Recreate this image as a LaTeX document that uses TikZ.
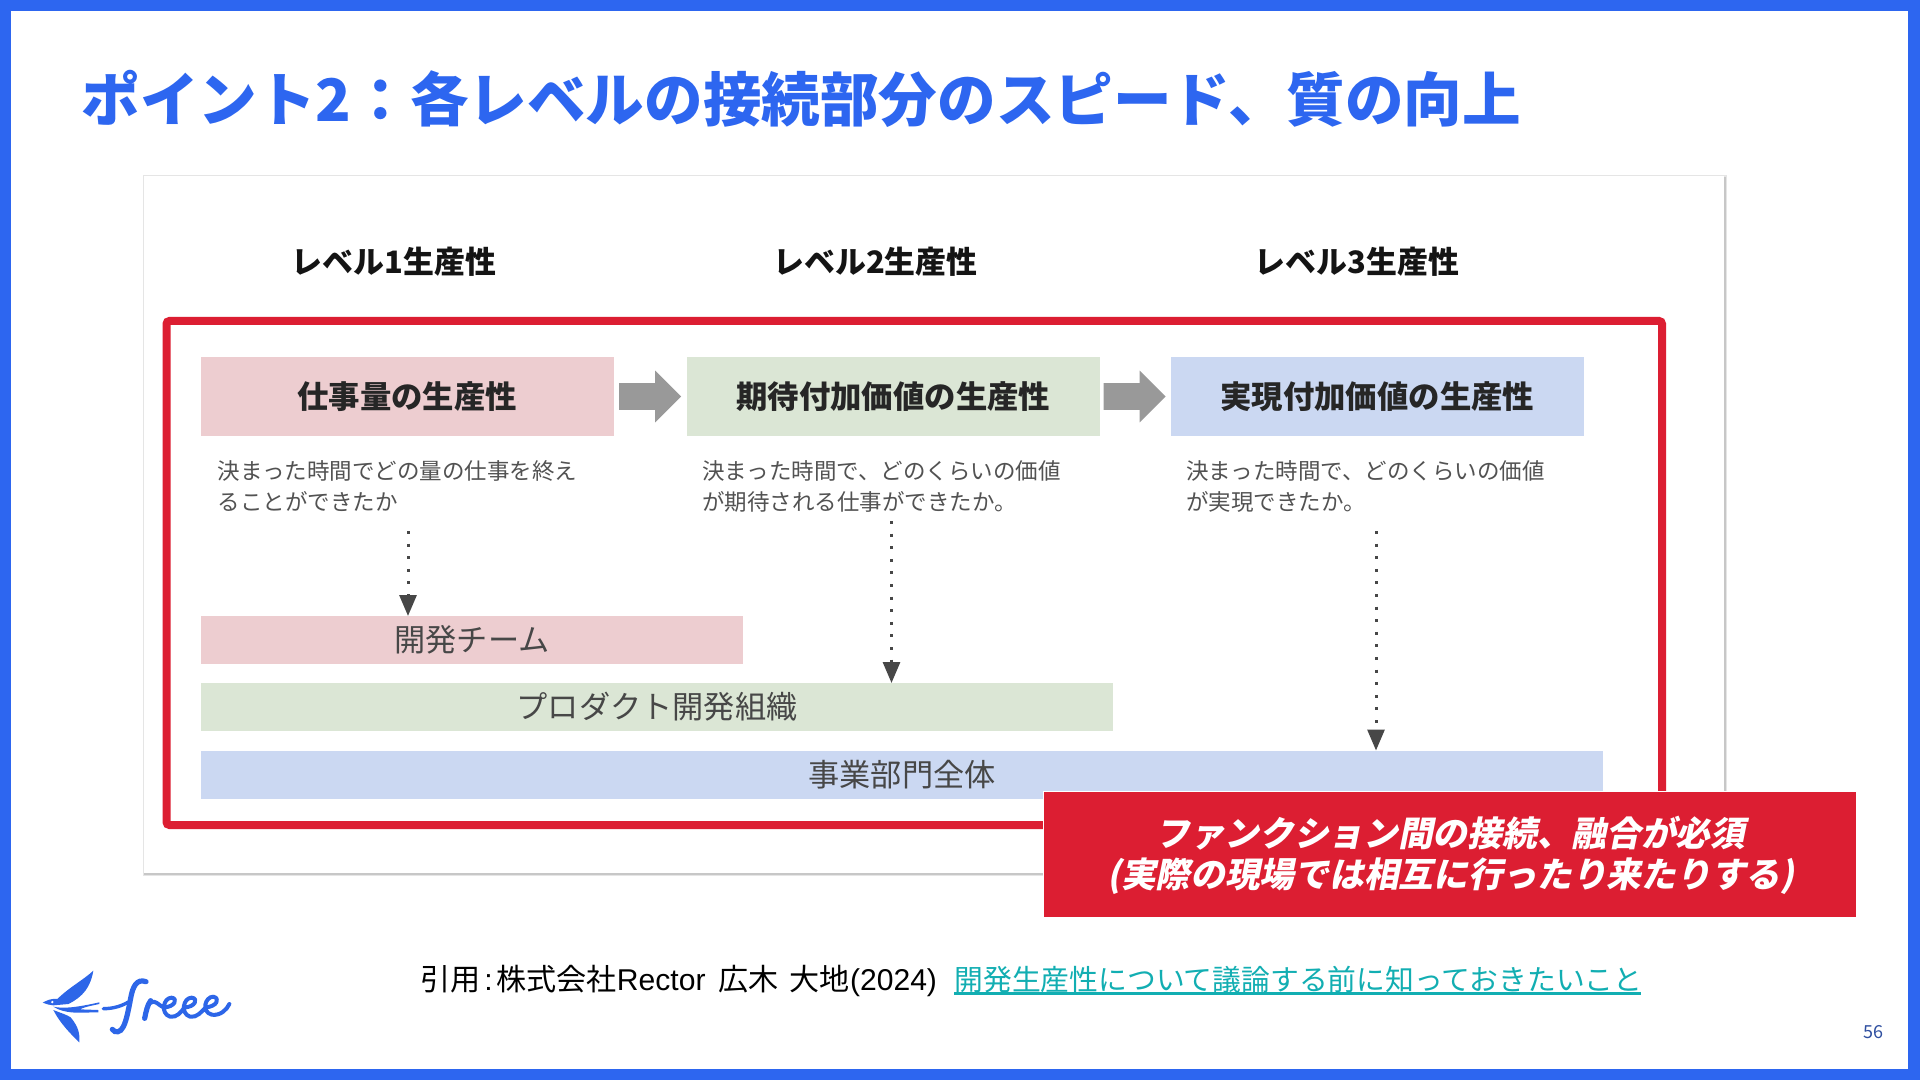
\documentclass[tikz,border=0pt]{standalone}
\usepackage{fontspec}
\setmainfont{Noto Sans CJK JP}
\newfontfamily\latn{Liberation Sans}
\usetikzlibrary{arrows.meta,shapes.arrows}
\definecolor{frameblue}{HTML}{2D66F0}
\definecolor{logoblue}{HTML}{2D66E8}
\definecolor{alert}{HTML}{DC1E32}
\definecolor{pinkbox}{HTML}{EDCDD0}
\definecolor{greenbox}{HTML}{DBE6D5}
\definecolor{bluebox}{HTML}{CBD8F2}
\definecolor{linkteal}{HTML}{12AEB2}
\definecolor{pagenum}{HTML}{2F4FA0}
\definecolor{arrowgray}{HTML}{999999}
\newcommand{\fs}[1]{\fontsize{#1}{#1}\selectfont}
\tikzset{
  x=0.5pt,y=-0.5pt,
  levellabel/.style={font=\fs{15.45}\bfseries,text=black!92,inner sep=0},
  headbox/.style={anchor=north west,inner sep=0,outer sep=0,minimum width=206.25pt,minimum height=39.5pt,font=\fs{15.7}\bfseries,text=black!85},
  desc/.style={anchor=west,inner sep=0,font=\fs{11.25}\selectfont,text=black!68,align=left},
  barbox/.style={anchor=north west,inner sep=0,outer sep=0,minimum height=24pt,font=\fs{15.6},text=black!72},
  fatarrow/.style={single arrow,fill=arrowgray,inner xsep=0pt,inner ysep=6.5pt,outer sep=0,minimum height=31pt,minimum width=25.5pt,single arrow head extend=6.25pt,single arrow tip angle=90,single arrow head indent=0pt},
  dotarrow/.style={draw=black!72,line width=1.5pt,dash pattern=on 1.5pt off 4.8pt,-{Triangle[length=10.5pt,width=8.5pt,fill=black!72]},shorten <=0pt},
}
\begin{document}
\begin{tikzpicture}
\useasboundingbox (0,0) rectangle (1920,1080);
% slide frame
\fill[frameblue] (0,0) rectangle (1920,1080);
\fill[white] (11,11) rectangle (1908,1069);
% title
\node[anchor=west,inner sep=0,font=\fs{29.3}\bfseries,text=frameblue] (title) at (81,99) {ポイント2：各レベルの接続部分のスピード、質の向上};
% card
\fill[black!10] (143,175) rectangle (1727,876);
\fill[black!22] (144,177) rectangle (1725.5,874.5);
\fill[white] (144,176) rectangle (1724,873);
% level labels
\node[levellabel] (l1) at (394,262) {レベル1生産性};
\node[levellabel] (l2) at (875.5,262) {レベル2生産性};
\node[levellabel] (l3) at (1357,262) {レベル3生産性};
% red frame
\draw[alert,line width=4pt,rounded corners=1.5pt] (166.5,321) rectangle (1662,825);
% head boxes
\node[headbox,fill=pinkbox] (h1) at (201,357) {仕事量の生産性};
\node[headbox,fill=greenbox] (h2) at (687,357) {期待付加価値の生産性};
\node[headbox,fill=bluebox] (h3) at (1171,357) {実現付加価値の生産性};
% fat arrows
\node[fatarrow] (a1) at (643.3,396.5) {};
\node[fatarrow] (a2) at (1127.8,396.5) {};
% descriptions
\node[desc] (d1a) at (217.5,471) {決まった時間でどの量の仕事を終え};
\node[desc] (d1b) at (217.5,502) {ることができたか};
\node[desc] (d2a) at (702,471) {決まった時間で、どのくらいの価値};
\node[desc] (d2b) at (702,502) {が期待される仕事ができたか。};
\node[desc] (d3a) at (1186,471) {決まった時間で、どのくらいの価値};
\node[desc] (d3b) at (1186,502) {が実現できたか。};
% bars
\node[barbox,fill=pinkbox,minimum width=271pt] (b1) at (201,616) {開発チーム};
\node[barbox,fill=greenbox,minimum width=456pt] (b2) at (201,683) {プロダクト開発組織};
\node[barbox,fill=bluebox,minimum width=701pt] (b3) at (201,750.5) {事業部門全体};
% dotted arrows
\coordinate (s1) at (408,531);
\coordinate (s2) at (891.5,521);
\coordinate (s3) at (1376,531);
\draw[dotarrow] (s1) -- (s1 |- b1.north);
\draw[dotarrow] (s2) -- (s2 |- b2.north);
\draw[dotarrow] (s3) -- (s3 |- b3.north);
% callout
\node[anchor=north west,inner sep=0,fill=alert,draw=white,line width=0.4pt,minimum width=406.5pt,minimum height=63pt] (call) at (1043,791) {};
\node[xslant=0.2,transform shape,inner sep=0,text=white,font=\fs{17.35}\bfseries] (c1) at (1453,833) {ファンクション間の接続、融合が必須};
\node[xslant=0.2,transform shape,inner sep=0,text=white,font=\fs{17.35}\bfseries] (c2) at (1453,876) {(実際の現場では相互に行ったり来たりする)};
% citation
\node[anchor=west,inner sep=0,font=\fs{15.05},text=black] (cite) at (420,981) {引用\hspace{1.9pt}{\latn :}\hspace{1.9pt}株式会社{\latn Rector}\hspace{6.4pt}広木\hspace{5.6pt}大地{\latn (2024)}};
\node[anchor=west,inner sep=0,font=\fs{14.4},text=linkteal] (link) at (954,980) {開発生産性について議論する前に知っておきたいこと};
\draw[linkteal,line width=1.1pt] (954,993.5) -- (1641,993.5);
% page number
\node[inner sep=0,font=\fs{9},text=pagenum] (page) at (1873,1032) {56};
% logo
\begin{scope}[shift={(0,930)},x=0.16667pt,y=-0.16667pt]
\fill[logoblue] (128,218) .. controls (140,212) and (150,205) .. (172,207) .. controls (210,170) and (250,150) .. (280,122) .. controls (272,170) and (250,200) .. (205,222) -- (160,226) .. controls (150,226) and (140,222) .. (128,218) -- cycle;
\fill[logoblue] (160,230) .. controls (190,237) and (230,232) .. (298,217) -- (298,222) .. controls (270,228) and (250,232) .. (240,238) -- (295,240) -- (295,247) -- (235,248) .. controls (200,248) and (175,240) .. (160,230) -- cycle;
\fill[logoblue] (160,240) .. controls (185,250) and (200,254) .. (212,262) .. controls (235,290) and (240,310) .. (238,337) .. controls (215,315) and (180,280) .. (160,240) -- cycle;
\fill[white] (157,216) circle (4);
\draw[logoblue,line width=1.7pt,line cap=round] (310,236) .. controls (340,236) and (365,228) .. (385,216);
\draw[logoblue,line width=2.6pt,line cap=round] (438,155) .. controls (410,145) and (398,170) .. (392,205) .. controls (385,240) and (380,270) .. (370,290) .. controls (362,308) and (345,310) .. (337,298);
\draw[logoblue,line width=2.6pt,line cap=round] (434,265) .. controls (438,245) and (442,225) .. (452,212);
\draw[logoblue,line width=2pt,line cap=round,line join=round] (452,218) .. controls (465,208) and (475,225) .. (490,232) .. controls (525,232) and (535,205) .. (515,203) .. controls (490,203) and (480,250) .. (510,260) .. controls (530,264) and (545,245) .. (553,232) .. controls (585,232) and (597,205) .. (575,203) .. controls (550,203) and (540,250) .. (570,260) .. controls (590,264) and (605,245) .. (617,232) .. controls (650,230) and (662,205) .. (640,200) .. controls (615,200) and (603,245) .. (635,254) .. controls (660,258) and (680,240) .. (688,222);
\end{scope}
\end{tikzpicture}
\end{document}
